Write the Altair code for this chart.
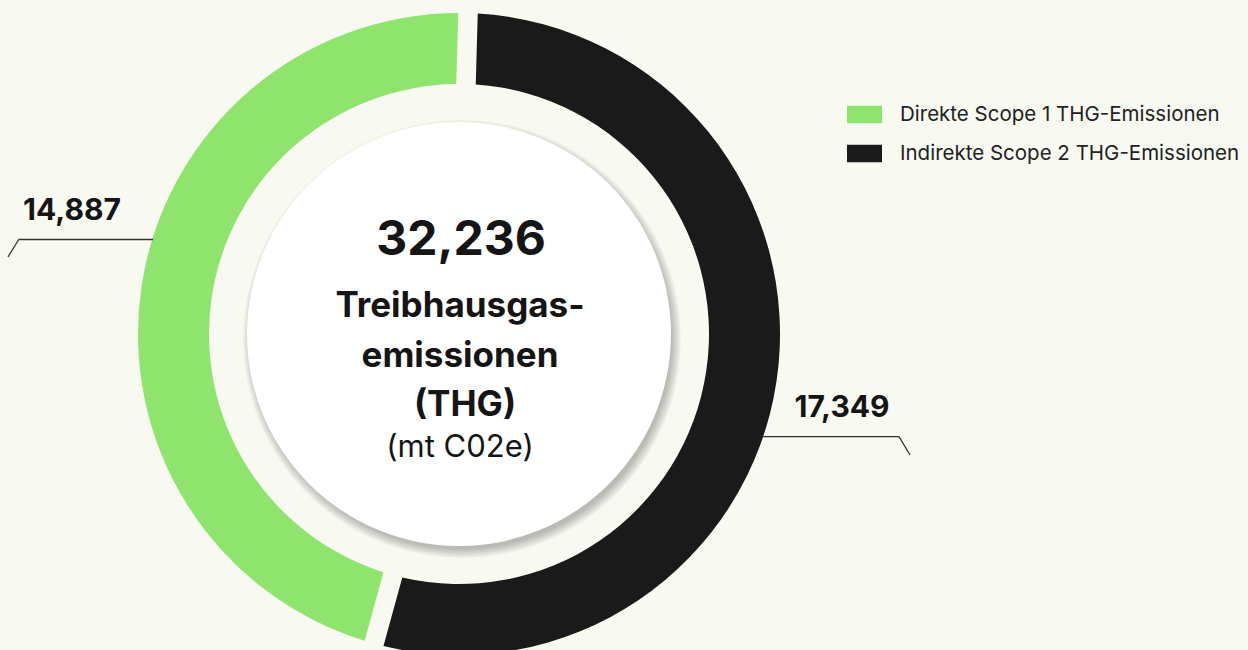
import math
import altair as alt
import pandas as pd

# ---- data -------------------------------------------------------------
CATEGORIES = ["Direkte Scope 1 THG-Emissionen", "Indirekte Scope 2 THG-Emissionen"]
VALUES = [14887, 17349]
SLICE_ORDER = [1, 0]            # Scope 2 drawn first (clockwise from top)
COLORS = ["#8EE46D", "#1A1A1A"]
VALUE_LABELS = ["14,887", "17,349"]
TOTAL_LABEL = "32,236"
CENTER_LINES = ["Treibhausgas-", "emissionen", "(THG)"]
UNIT_LABEL = "(mt C02e)"

df = pd.DataFrame({"cat": CATEGORIES, "value": VALUES, "ord": SLICE_ORDER})

# ---- style / layout ---------------------------------------------------
W, H = 1248, 650
CX, CY = 459, 334
R_OUT, R_IN, R_DISC = 321, 250, 212
BG = "#F8F9F1"
FONT = "Inter"
TXT = "#151515"
OFF = 0.028


def one():
    return pd.DataFrame({"k": [0]})


donut = alt.Chart(df).mark_arc(
    outerRadius=R_OUT, innerRadius=R_IN, padAngle=0.048, opacity=1
).encode(
    theta=alt.Theta("value:Q", stack=True,
                    scale=alt.Scale(range=[OFF, OFF + 2 * math.pi])),
    color=alt.Color(
        "cat:N",
        scale=alt.Scale(domain=CATEGORIES, range=COLORS),
        legend=alt.Legend(
            title=None, orient="none", legendX=847, legendY=97,
            symbolType="M-1,-0.5H1V0.5H-1Z", symbolSize=1225,
            symbolStrokeWidth=0, symbolOpacity=1,
            labelFont=FONT, labelFontSize=20.5, labelColor="#222222",
            labelOffset=18, rowPadding=11, padding=0, labelLimit=400,
        ),
    ),
    order=alt.Order("ord:Q"),
    x=alt.value(CX), y=alt.value(CY),
)

# shadow of the centre disc (vega circle: size = (diameter)^2)
shadow_layers = []
for k in range(0, 10):
    r = R_DISC - 2 + k
    shadow_layers.append(
        alt.Chart(one()).mark_circle(color="#3a3a30", opacity=0.035).encode(
            x=alt.value(CX + 3), y=alt.value(CY + 5),
            size=alt.value((2 * r) ** 2),
        )
    )

disc = alt.Chart(one()).mark_circle(color="#FFFFFF", opacity=1).encode(
    x=alt.value(CX), y=alt.value(CY),
    size=alt.value((2 * R_DISC) ** 2),
)


def text_layer(txt, x, y, size, weight="bold"):
    return alt.Chart(pd.DataFrame({"t": [txt]})).mark_text(
        font=FONT, fontSize=size, fontWeight=weight, color=TXT,
        align="center", baseline="alphabetic",
    ).encode(x=alt.value(x), y=alt.value(y), text="t:N")


center = [
    text_layer(TOTAL_LABEL, CX + 2, 255, 48),
    text_layer(CENTER_LINES[0], CX + 1, 317, 35),
    text_layer(CENTER_LINES[1], CX + 1, 367, 35),
    text_layer(CENTER_LINES[2], CX + 6, 416, 35),
    text_layer(UNIT_LABEL, CX + 1, 457, 31, "normal"),
]

labels = [
    text_layer(VALUE_LABELS[0], 72, 220, 30),
    text_layer(VALUE_LABELS[1], 842, 417, 30),
]


def rule(x1, y1, x2, y2):
    return alt.Chart(one()).mark_rule(color="#333333", strokeWidth=1.3).encode(
        x=alt.value(x1), y=alt.value(y1), x2=alt.value(x2), y2=alt.value(y2)
    )


leaders = [
    rule(18.7, 239.5, 153, 239.5),
    rule(18.7, 239.5, 8, 257),
    rule(762, 436.7, 899, 436.7),
    rule(899, 436.7, 910, 455),
]

chart = alt.layer(
    donut, *shadow_layers, disc, *center, *labels, *leaders
).properties(
    width=W, height=H, padding=0,
    autosize=alt.AutoSizeParams(type="none"),
    background=BG,
).configure_view(stroke=None)

chart.save("out.html", embed_options={"renderer": "svg", "actions": False})
